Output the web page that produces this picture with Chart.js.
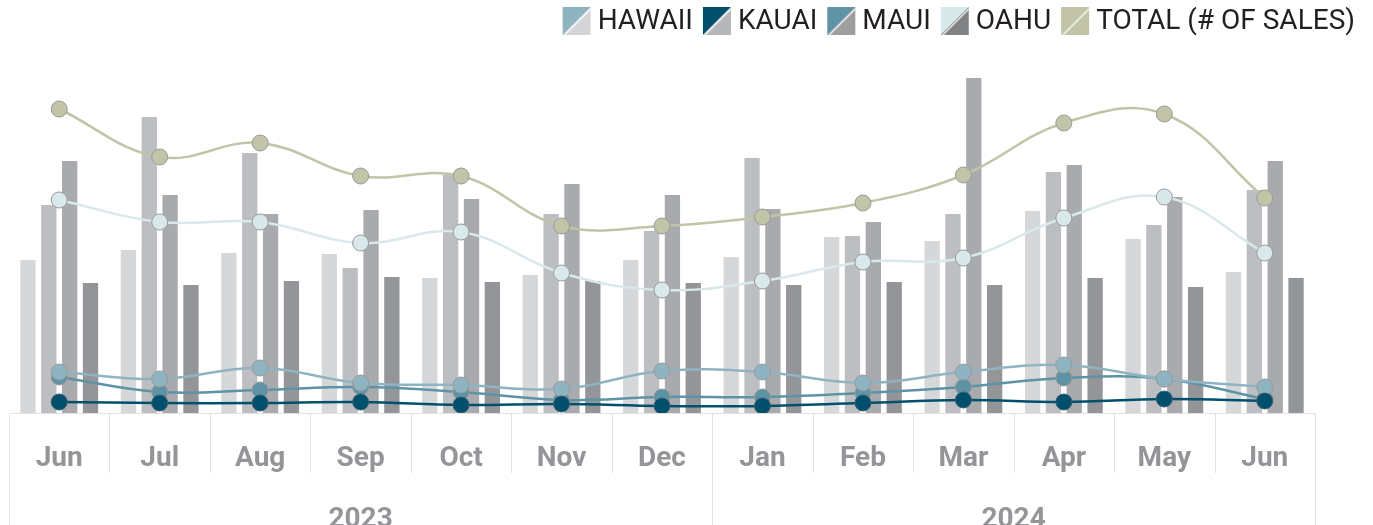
<!DOCTYPE html>
<html>
<head>
<meta charset="utf-8">
<script src="https://cdn.jsdelivr.net/npm/chart.js@4"></script>
<style>
  body { margin: 0; background: #fff; }
  #wrap { width: 1373px; height: 525px; position: relative; }
</style>
</head>
<body>
<div id="wrap"><canvas id="salesChart"></canvas></div>
<script>
// months shown on the axis, grouped by year
const months = ['Jun', 'Jul', 'Aug', 'Sep', 'Oct', 'Nov', 'Dec', 'Jan', 'Feb', 'Mar', 'Apr', 'May', 'Jun'];
const yearLabels = ['2023', '2024'];
const yearStart = [0, 7];
const yearEnd = [6, 12];

// bar series (grey columns)
const hawaiiBars = [154, 164, 161, 160, 136, 139, 154, 157, 177, 173, 203, 175, 142];
const kauaiBars  = [209, 297, 261, 146, 239, 200, 183, 256, 178, 200, 242, 189, 224];
const mauiBars   = [253, 219, 200, 204, 215, 230, 219, 205, 192, 336, 249, 217, 253];
const oahuBars   = [131, 129, 133, 137, 132, 133, 131, 129, 132, 129, 136, 127, 136];

// line series (# of sales)
const hawaiiSales = [41, 34, 45, 30, 28, 24, 42, 41, 30, 41, 48, 34, 26];
const kauaiSales  = [11, 10, 10, 11, 8, 9, 7, 7, 10, 13, 11, 14, 12];
const mauiSales   = [36, 21, 23, 26, 21, 13, 16, 16, 20, 26, 35, 34, 14];
const oahuSales   = [213, 191, 191, 170, 181, 140, 123, 132, 151, 155, 195, 216, 160];
const totalSales  = [304, 256, 270, 237, 237, 187, 187, 196, 210, 238, 290, 299, 215];

const legendNames = ['HAWAII', 'KAUAI', 'MAUI', 'OAHU', 'TOTAL (# OF SALES)'];
const lineColors = ['#8fb4c1', '#004f6d', '#5e93a6', '#d8e8eb', '#c2c4a7'];
const barColors = ['#d6d7d9', '#bdbec2', '#a9aaae', '#949599'];
const legendGreys = ['#d3d4d6', '#b6b7b9', '#9d9ea0', '#818284', '#c2c4a7'];

const axisGrey = '#939598';
const sepColor = '#e2e2e2';

function barSet(label, data, color) {
    return {
        type: 'bar',
        label: label,
        data: data,
        backgroundColor: color,
        borderColor: 'rgba(255,255,255,0.45)',
        borderWidth: 1,
        barPercentage: 0.83,
        categoryPercentage: 0.83,
        order: 10
    };
}

function lineSet(label, data, color, order, pointBorder) {
    return {
        type: 'line',
        label: label,
        data: data,
        borderColor: color,
        backgroundColor: color,
        borderWidth: 2.5,
        tension: 0.4,
        pointRadius: 8,
        pointBackgroundColor: color,
        pointBorderColor: pointBorder || '#9a9a9a',
        pointBorderWidth: 1,
        order: order
    };
}

// legend with split squares: line colour top-left, bar grey bottom-right
const splitLegend = {
    id: 'splitLegend',
    afterDraw(chart) {
        const ctx = chart.ctx;
        const box = 28, gap = 7, spacing = 10, top = 7;
        ctx.save();
        ctx.font = '28px Roboto';
        const widths = legendNames.map(n => ctx.measureText(n).width);
        let total = widths.reduce((a, b) => a + b, 0) + legendNames.length * (box + gap) + (legendNames.length - 1) * spacing;
        let x = chart.width - 18 - total;
        legendNames.forEach((name, i) => {
            ctx.fillStyle = lineColors[i];
            ctx.beginPath();
            ctx.moveTo(x, top);
            ctx.lineTo(x + box, top);
            ctx.lineTo(x, top + box);
            ctx.closePath();
            ctx.fill();
            ctx.fillStyle = legendGreys[i];
            ctx.beginPath();
            ctx.moveTo(x + box, top);
            ctx.lineTo(x + box, top + box);
            ctx.lineTo(x, top + box);
            ctx.closePath();
            ctx.fill();
            ctx.strokeStyle = 'rgba(255,255,255,0.8)';
            ctx.lineWidth = 1.5;
            ctx.beginPath();
            ctx.moveTo(x + 2, top + box);
            ctx.lineTo(x + box, top + 2);
            ctx.stroke();

            ctx.fillStyle = '#231f20';
            ctx.textBaseline = 'middle';
            ctx.textAlign = 'left';
            ctx.fillText(name, x + box + gap, top + box / 2 + 1);
            x += box + gap + widths[i] + spacing;
        });
        ctx.restore();
    }
};

// month separators and the year row under the axis
const yearRow = {
    id: 'yearRow',
    afterDraw(chart) {
        const ctx = chart.ctx;
        const xs = chart.scales.x;
        const base = chart.chartArea.bottom;
        ctx.save();
        ctx.strokeStyle = sepColor;
        ctx.lineWidth = 1;
        for (let i = 0; i <= months.length; i++) {
            const px = Math.round(xs.getPixelForValue(i - 0.5)) + 0.5;
            const isYearEdge = i === 0 || i === months.length || yearStart.includes(i);
            ctx.beginPath();
            ctx.moveTo(px, base);
            ctx.lineTo(px, isYearEdge ? chart.height : base + 60);
            ctx.stroke();
        }
        ctx.fillStyle = axisGrey;
        ctx.font = 'bold 28px Roboto';
        ctx.textAlign = 'center';
        ctx.textBaseline = 'middle';
        yearLabels.forEach((y, i) => {
            const mid = (yearStart[i] + yearEnd[i]) / 2;
            ctx.fillText(y, xs.getPixelForValue(mid), base + 107);
        });
        ctx.restore();
    }
};

const chart = new Chart(document.getElementById('salesChart'), {
    data: {
        labels: months,
        datasets: [
            lineSet('KAUAI', kauaiSales, lineColors[1], 1, '#3d5f70'),
            lineSet('HAWAII', hawaiiSales, lineColors[0], 2),
            lineSet('MAUI', mauiSales, lineColors[2], 3),
            lineSet('OAHU', oahuSales, lineColors[3], 4),
            lineSet('TOTAL (# OF SALES)', totalSales, lineColors[4], 5),
            barSet('HAWAII', hawaiiBars, barColors[0]),
            barSet('KAUAI', kauaiBars, barColors[1]),
            barSet('MAUI', mauiBars, barColors[2]),
            barSet('OAHU', oahuBars, barColors[3])
        ]
    },
    options: {
        responsive: true,
        maintainAspectRatio: false,
        animation: false,
        layout: { padding: { top: 50, left: 8, right: 58, bottom: 0 } },
        plugins: {
            legend: { display: false },
            tooltip: { enabled: false }
        },
        scales: {
            x: {
                type: 'category',
                offset: true,
                grid: { display: false },
                border: { display: true, color: sepColor },
                ticks: {
                    autoSkip: false,
                    maxRotation: 0,
                    padding: 21,
                    color: axisGrey,
                    font: { family: 'Roboto', size: 28, weight: 'bold' }
                },
                afterFit(scale) { scale.height = 112; }
            },
            y: {
                display: false,
                min: 0,
                max: 363
            }
        }
    },
    plugins: [splitLegend, yearRow]
});
</script>
</body>
</html>
